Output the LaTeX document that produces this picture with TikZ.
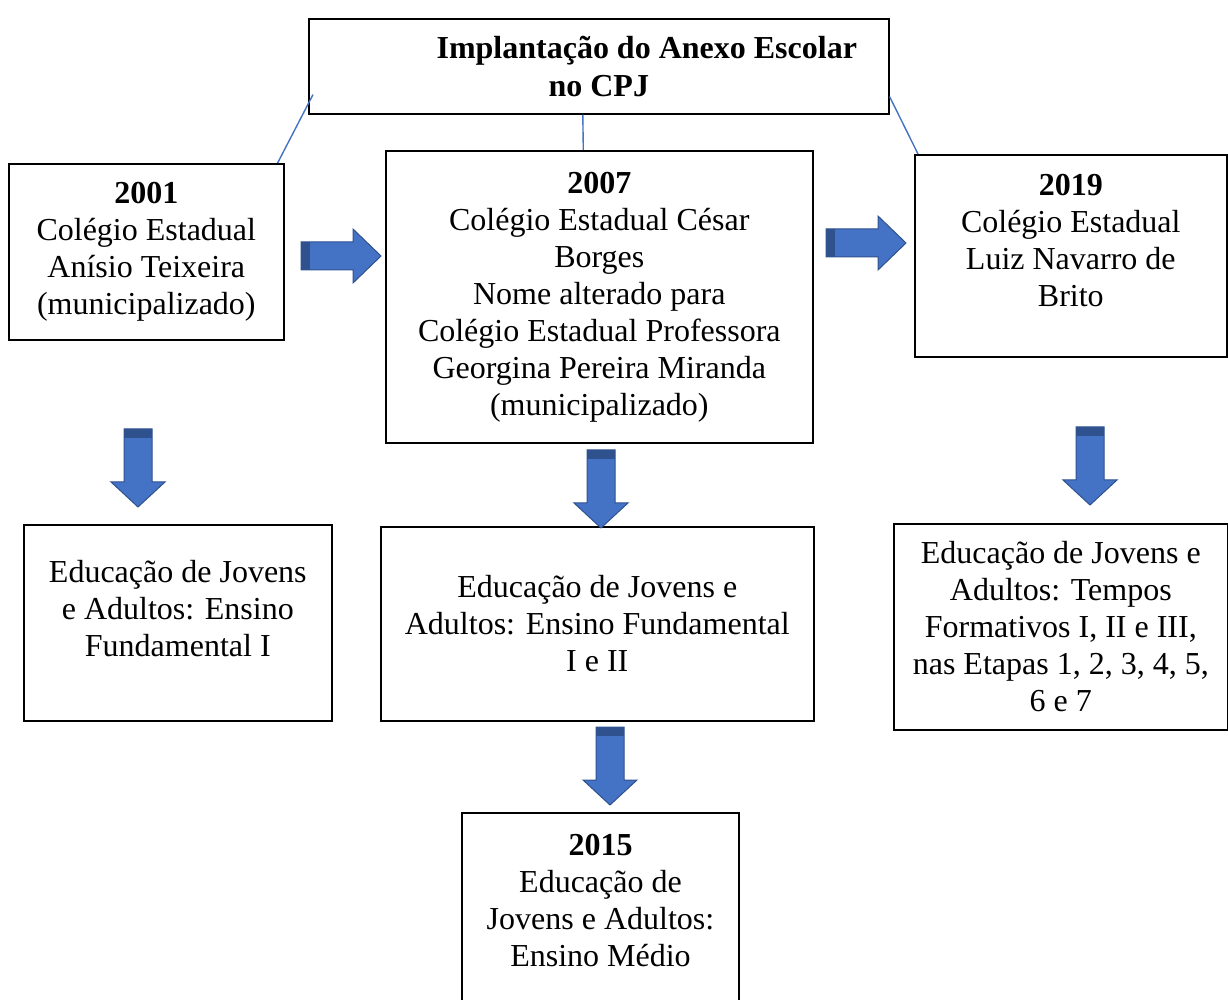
\documentclass[tikz,border=0pt]{standalone}
\usepackage{fontspec}
\setmainfont{Liberation Serif}
\definecolor{arrblue}{HTML}{4472C4}
\definecolor{arrdark}{HTML}{2F528F}
\def\px{0.5pt}
\tikzset{
	textbox/.style={draw,line width=0.8pt,align=center,inner sep=0pt,font=\fontsize{16}{18.5}\selectfont},
	linkline/.style={arrblue,line width=0.7pt},
	rblock/.pic={
		\filldraw[fill=arrblue,draw=arrdark,line width=0.5pt] (0,-14)--(52,-14)--(52,-27)--(80,0)--(52,27)--(52,14)--(0,14)--cycle;
		\fill[arrdark] (0,-14) rectangle (9,14);},
	dblock/.pic={
		\filldraw[fill=arrblue,draw=arrdark,line width=0.5pt] (-14,0)--(-14,53)--(-27,53)--(0,78)--(27,53)--(14,53)--(14,0)--cycle;
		\fill[arrdark] (-14,0) rectangle (14,9);}
}
\begin{document}
\begin{tikzpicture}[x=\px,y=-\px]
		\useasboundingbox (0,0) rectangle (1228,1000);
		% boxes
		\node[textbox,anchor=north west,minimum width=580*\px,minimum height=95*\px,font=\fontsize{16}{19}\selectfont\bfseries] (top) at (308,18) {\hspace*{48pt}Implantação do Anexo Escolar\\ no CPJ};
		\node[textbox,anchor=north west,minimum width=275*\px,minimum height=176*\px] (n2001) at (8,163) {\textbf{2001}\\ Colégio Estadual\\ Anísio Teixeira\\ (municipalizado)};
		\node[textbox,anchor=north west,minimum width=427*\px,minimum height=292*\px] (n2007) at (385,150) {\textbf{2007}\\ Colégio Estadual César\\ Borges\\ Nome alterado para\\ Colégio Estadual Professora\\ Georgina Pereira Miranda\\ (municipalizado)};
		\node[textbox,anchor=north west,minimum width=312*\px,minimum height=202*\px] (n2019) at (914,154) {\textbf{2019}\\ Colégio Estadual\\ Luiz Navarro de\\ Brito\\[-3.5pt]};
		\node[textbox,anchor=north west,minimum width=308*\px,minimum height=196*\px] (eja1) at (23,524) {Educação de Jovens\\ e Adultos: Ensino\\ Fundamental I\\[-4pt]};
		\node[textbox,anchor=north west,minimum width=433*\px,minimum height=194*\px] (eja2) at (380,526) {Educação de Jovens e\\ Adultos: Ensino Fundamental\\ I e II};
		\node[textbox,anchor=north west,minimum width=334*\px,minimum height=206*\px] (eja3) at (893,523) {Educação de Jovens e\\ Adultos: Tempos\\ Formativos I, II e III,\\ nas Etapas 1, 2, 3, 4, 5,\\ 6 e 7};
		\node[textbox,draw=none,anchor=north,minimum width=275*\px,inner ysep=10pt] (n2015) at (600.5,813) {\textbf{2015}\\ Educação de\\ Jovens e Adultos:\\ Ensino Médio};
		\draw[line width=0.8pt] (n2015.north west) rectangle ([yshift=-80pt]n2015.south east);
		% thin links to the title
		\draw[linkline] ([xshift=5*\px,yshift=20*\px]top.south west) -- ([xshift=-7*\px]n2001.north east);
		\draw[linkline] ([xshift=-16*\px]top.south) -- ([xshift=-16*\px]n2007.north);
		\draw[linkline] ([yshift=18*\px]top.south east) -- ([xshift=4*\px]n2019.north west);
		% block arrows
		\pic at (301,256) {rblock};
		\pic at (826,243) {rblock};
		\foreach \x/\y in {138/429,601/450,610/727,1090/427}
			\pic at (\x,\y) {dblock};
\end{tikzpicture}
\end{document}
